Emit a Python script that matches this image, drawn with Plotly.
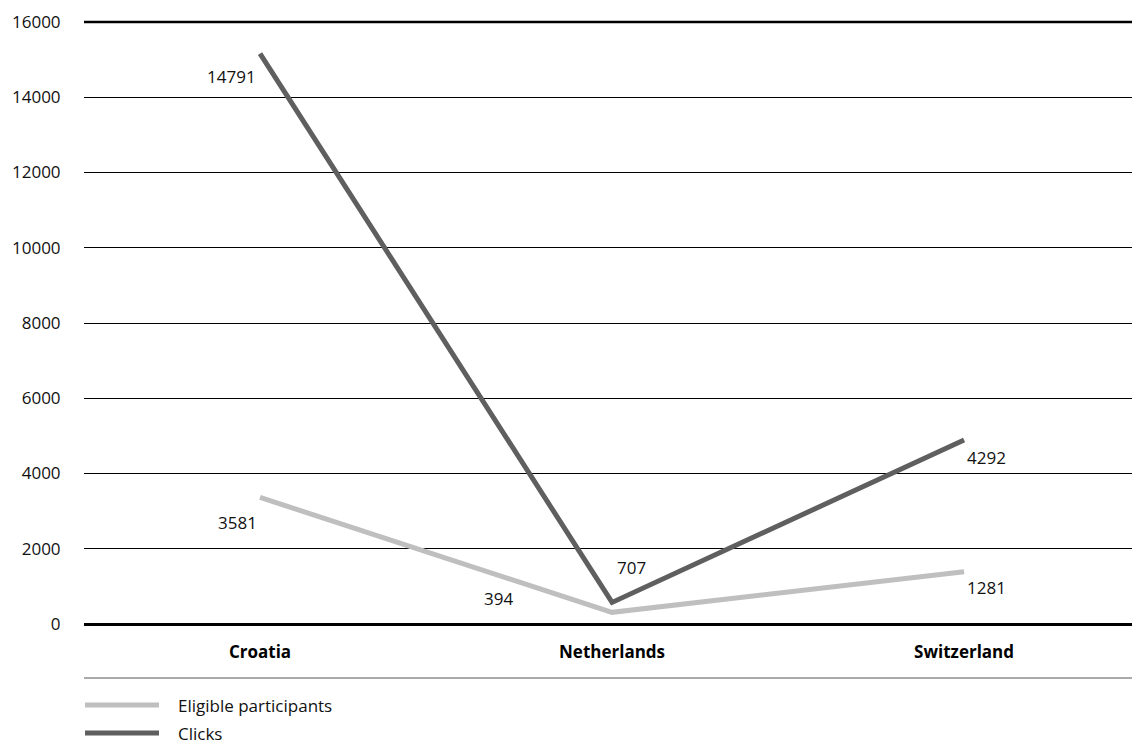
import plotly.graph_objects as go

categories = ["Croatia", "Netherlands", "Switzerland"]
series_names = ["Eligible participants", "Clicks"]
eligible_values = [3365, 310, 1390]
clicks_values = [15160, 574, 4890]
eligible_labels = ["3581", "394", "1281"]
clicks_labels = ["14791", "707", "4292"]
y_ticks = [0, 2000, 4000, 6000, 8000, 10000, 12000, 14000, 16000]

FONT = "Open Sans"
FS = 17
colors = ["#bfbfbf", "#5f5f5f"]
# label offsets (px) per point: (dx, dy) with dy positive upwards
eligible_offsets = [(-23, -25), (-114, 14), (22, -16)]
clicks_offsets = [(-29, -23), (19, 35), (22, -17)]

fig = go.Figure()
for name, vals, col in zip(series_names, [eligible_values, clicks_values], colors):
    fig.add_trace(go.Scatter(x=categories, y=vals, mode="lines", name=name,
                             line=dict(color=col, width=5), showlegend=False))

annotations = []
for vals, labs, offs in [(eligible_values, eligible_labels, eligible_offsets),
                         (clicks_values, clicks_labels, clicks_offsets)]:
    for c, v, t, (dx, dy) in zip(categories, vals, labs, offs):
        annotations.append(dict(x=c, y=v, text=t, showarrow=False, xshift=dx, yshift=dy,
                                font=dict(family=FONT, size=FS, color="#111")))

plot_h = 602
shapes = [
    dict(type="line", xref="paper", yref="paper", x0=0, x1=1, y0=1, y1=1,
         line=dict(color="#000", width=2.5)),
    dict(type="line", xref="paper", yref="paper", x0=0, x1=1,
         y0=-(678 - 624) / plot_h, y1=-(678 - 624) / plot_h, line=dict(color="#555", width=1)),
]
# manual legend
legend_y = [705, 733]
for name, col, py in zip(series_names, colors, legend_y):
    yp = -(py - 624) / plot_h
    shapes.append(dict(type="line", xref="paper", yref="paper", x0=1 / 1048, x1=75 / 1048,
                       y0=yp, y1=yp, line=dict(color=col, width=5)))
    annotations.append(dict(xref="paper", yref="paper", x=93 / 1048, y=yp, text=name,
                            showarrow=False, xanchor="left", yanchor="middle", borderpad=0,
                            font=dict(family=FONT, size=FS, color="#111")))

fig.update_layout(
    width=1132, height=745,
    margin=dict(l=84, r=0, t=22, b=121),
    plot_bgcolor="white", paper_bgcolor="white",
    font=dict(family=FONT, size=FS, color="#111"),
    shapes=shapes, annotations=annotations,
    xaxis=dict(range=[-0.5, 2.477], showgrid=False, showline=False, zeroline=False,
               ticks="outside", ticklen=13, tickcolor="rgba(0,0,0,0)",
               tickfont=dict(family=FONT, size=FS, color="#000", weight="bold")),
    yaxis=dict(range=[0, 16000], tickvals=y_ticks, ticktext=[str(v) for v in y_ticks],
               showgrid=True, gridcolor="#000", gridwidth=1,
               zeroline=True, zerolinecolor="#000", zerolinewidth=2.5,
               showline=False, ticks="outside", ticklen=19, tickcolor="rgba(0,0,0,0)",
               tickfont=dict(family=FONT, size=FS, color="#111")),
)

fig.write_html("out.html")
